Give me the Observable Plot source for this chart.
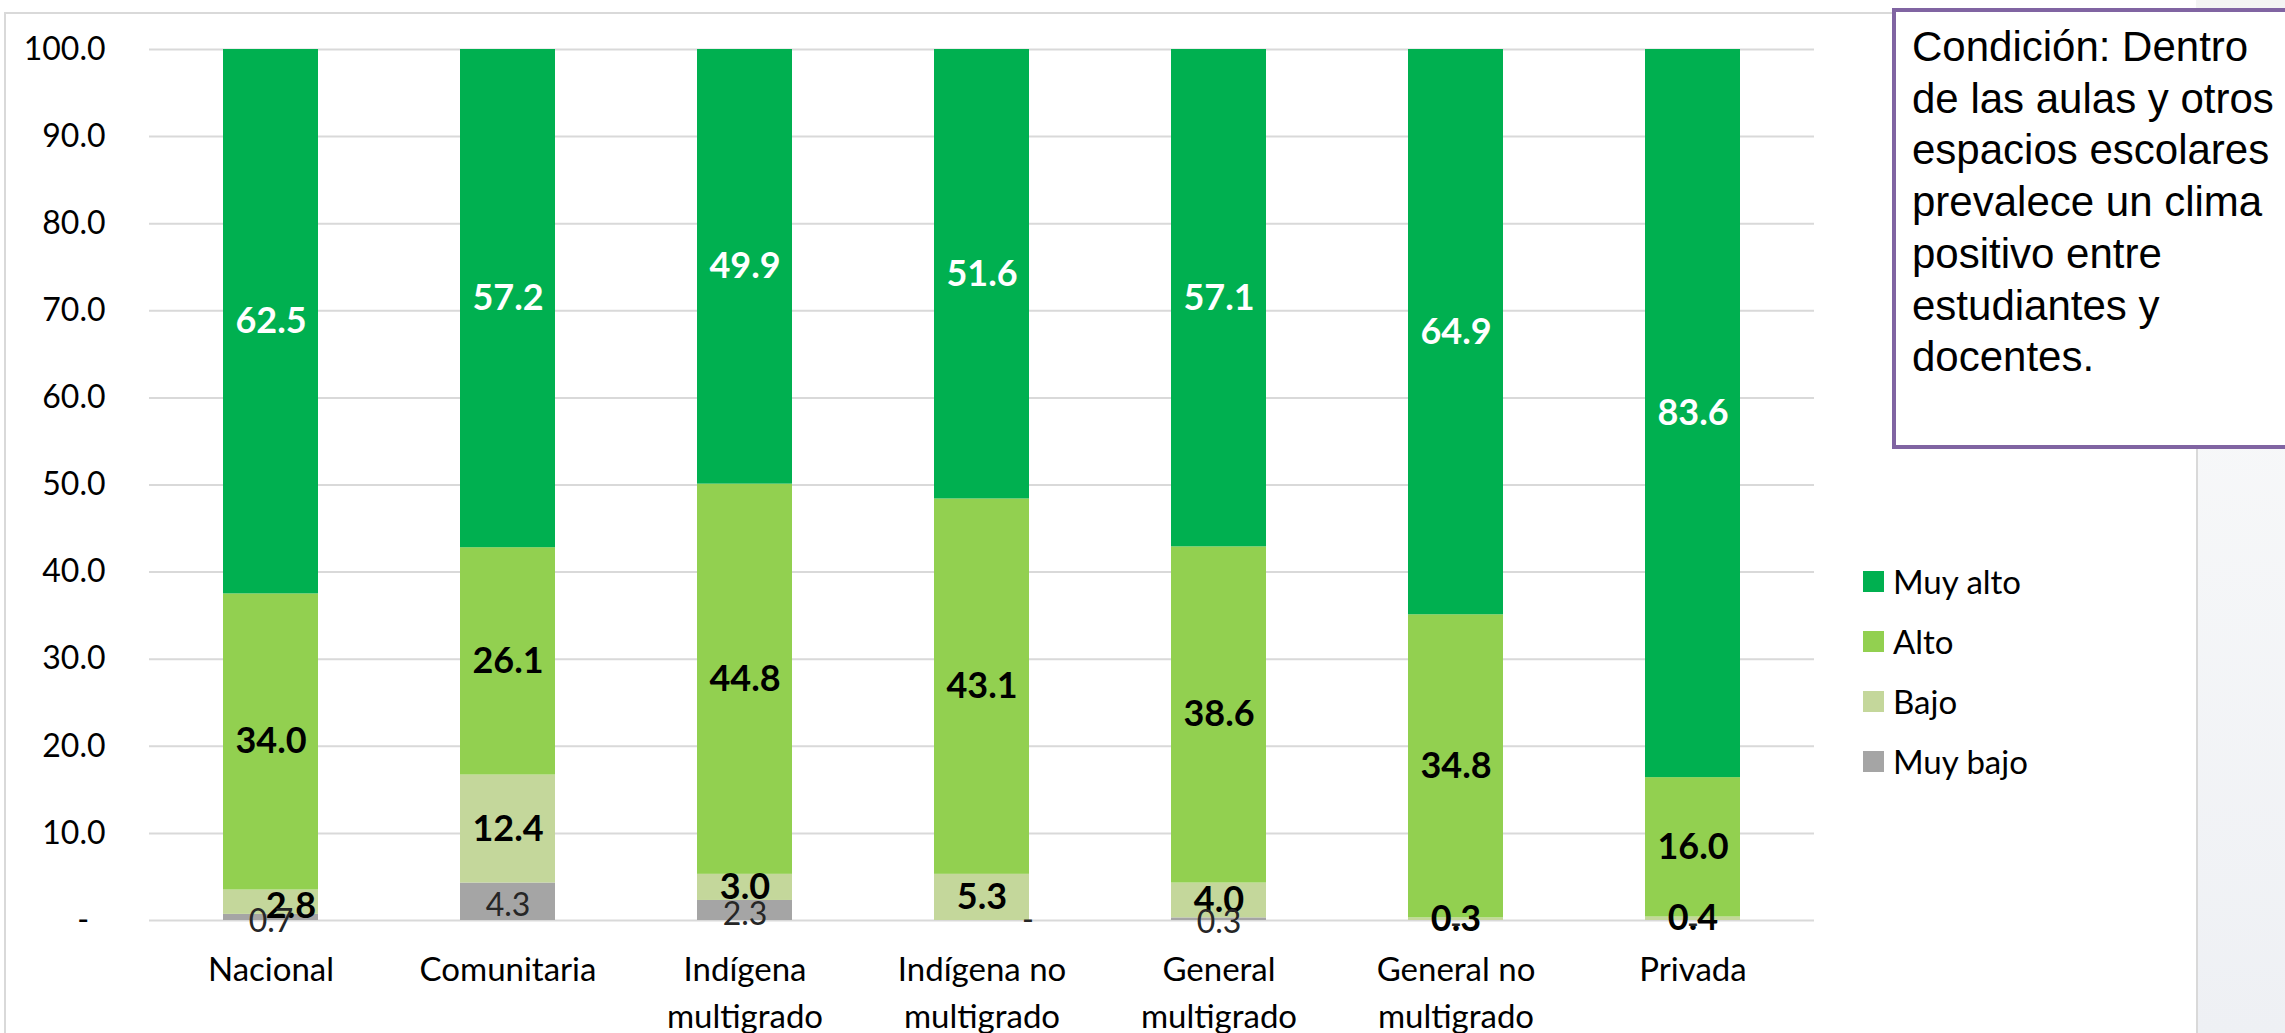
<!DOCTYPE html>
<html>
<head>
<meta charset="utf-8">
<script src="https://cdn.jsdelivr.net/npm/d3@7"></script>
<script src="https://cdn.jsdelivr.net/npm/@observablehq/plot@0.6"></script>
<style>
  html, body { margin: 0; padding: 0; background: #ffffff; }
  body { width: 2285px; height: 1033px; position: relative; overflow: hidden; font-family: Lato, "Noto Sans", sans-serif; }
  #bgRight { position: absolute; left: 2196px; top: 0; width: 89px; height: 1033px;
    background: linear-gradient(180deg, #f3f4f3 0%, #f7f8f9 40%, #eef0f4 100%); }
  #frame { position: absolute; left: 4px; top: 12px; width: 2190px; height: 1030px; border: 2px solid #d9d9d9; border-bottom: none; background: #fff; }
  #chart { position: absolute; left: 0; top: 0; }
  #legend { position: absolute; left: 1863px; top: 551px; font-family: Lato, "Noto Sans", sans-serif; font-size: 33px; color: #000; }
  #legend .item { display: flex; align-items: center; height: 60px; }
  #legend .sw { width: 21px; height: 21px; margin-right: 9px; }
  #note { position: absolute; left: 1892px; top: 8px; width: 420px; height: 441px; border: 4px solid #8064A2; border-right: none; background: #fff;
    font-family: "Liberation Sans", Arial, sans-serif; font-size: 42px; line-height: 51.7px; color: #000; padding: 9px 0 0 16px; box-sizing: border-box; }
</style>
</head>
<body>
<div id="bgRight"></div>
<div id="frame"></div>
<div id="chart"></div>
<div id="legend"></div>
<div id="note"></div>
<script>
const categorias = ["Nacional", "Comunitaria", "Indígena multigrado", "Indígena no multigrado", "General multigrado", "General no multigrado", "Privada"];
const etiquetas = ["Nacional", "Comunitaria", "Indígena\nmultigrado", "Indígena no\nmultigrado", "General\nmultigrado", "General no\nmultigrado", "Privada"];
const niveles = ["Muy bajo", "Bajo", "Alto", "Muy alto"];
const colores = ["#A5A5A5", "#C4D79B", "#92D050", "#00B050"];
const muyBajo = [0.7, 4.3, 2.3, 0.0, 0.3, 0.0, 0.0];
const bajo    = [2.8, 12.4, 3.0, 5.3, 4.0, 0.3, 0.4];
const alto    = [34.0, 26.1, 44.8, 43.1, 38.6, 34.8, 16.0];
const muyAlto = [62.5, 57.2, 49.9, 51.6, 57.1, 64.9, 83.6];
const yTicks = [0, 10, 20, 30, 40, 50, 60, 70, 80, 90, 100];
const legendOrder = ["Muy alto", "Alto", "Bajo", "Muy bajo"];
const nota = ["Condición: Dentro", "de las aulas y otros", "espacios escolares", "prevalece un clima", "positivo entre", "estudiantes y", "docentes."];

const series = {"Muy bajo": muyBajo, "Bajo": bajo, "Alto": alto, "Muy alto": muyAlto};
const data = [];
categorias.forEach((c, i) => niveles.forEach(n => data.push({cat: c, nivel: n, value: series[n][i]})));

const fmt = v => v === 0 ? "-" : v.toFixed(1);
const stackOpts = (textFn) => Plot.stackY({x: "cat", y: "value", z: "nivel", order: niveles, text: textFn});

const isShifted = d => (d.cat === "Nacional" && d.nivel === "Bajo") || (d.cat === "Indígena no multigrado" && d.nivel === "Muy bajo");

const chart = Plot.plot({
  width: 2285,
  height: 1033,
  marginLeft: 149,
  marginRight: 471,
  marginTop: 49,
  marginBottom: 113,
  style: {fontFamily: "Lato, 'Noto Sans', sans-serif", fontSize: "32px", color: "#000", background: "transparent"},
  x: {domain: categorias, paddingInner: 0.6, paddingOuter: 0.3},
  y: {domain: [0, 100]},
  color: {domain: niveles, range: colores},
  marks: [
    Plot.ruleY(yTicks, {stroke: "#d9d9d9", strokeWidth: 2}),
    Plot.barY(data, {x: "cat", y: "value", fill: "nivel", order: niveles}),
    Plot.axisY({ticks: yTicks, tickSize: 0, tickPadding: 44, fontSize: 32, label: null,
      tickFormat: d => d === 0 ? "-\u00A0\u00A0" : d.toFixed(1)}),
    Plot.axisX({tickSize: 0, tickPadding: 27, fontSize: 33, lineHeight: 1.42, label: null,
      tickFormat: d => etiquetas[categorias.indexOf(d)]}),
    Plot.text(data, {...stackOpts(d => d.nivel === "Muy alto" ? fmt(d.value) : null), fill: "#ffffff", fontWeight: "bold", fontSize: 36}),
    Plot.text(data, {...stackOpts(d => (d.nivel === "Alto" || d.nivel === "Bajo") && !isShifted(d) ? fmt(d.value) : null), fill: "#000", fontWeight: "bold", fontSize: 36}),
    Plot.text(data, {...stackOpts(d => d.nivel === "Bajo" && isShifted(d) ? fmt(d.value) : null), fill: "#000", fontWeight: "bold", fontSize: 36, dx: 20, dy: 4}),
    Plot.text(data, {...stackOpts(d => d.nivel === "Muy bajo" && !isShifted(d) ? fmt(d.value) : null), fill: "#262626", fontSize: 32, dy: 4}),
    Plot.text(data, {...stackOpts(d => d.nivel === "Muy bajo" && isShifted(d) ? fmt(d.value) : null), fill: "#262626", fontSize: 32, dx: 46})
  ]
});
document.getElementById("chart").appendChild(chart);

const legend = document.getElementById("legend");
legendOrder.forEach(n => {
  const item = document.createElement("div");
  item.className = "item";
  const sw = document.createElement("div");
  sw.className = "sw";
  sw.style.background = colores[niveles.indexOf(n)];
  const lab = document.createElement("span");
  lab.textContent = n;
  item.appendChild(sw);
  item.appendChild(lab);
  legend.appendChild(item);
});

document.getElementById("note").innerHTML = nota.map(s => s.replace(/&/g, "&amp;")).join("<br>");
</script>
</body>
</html>
